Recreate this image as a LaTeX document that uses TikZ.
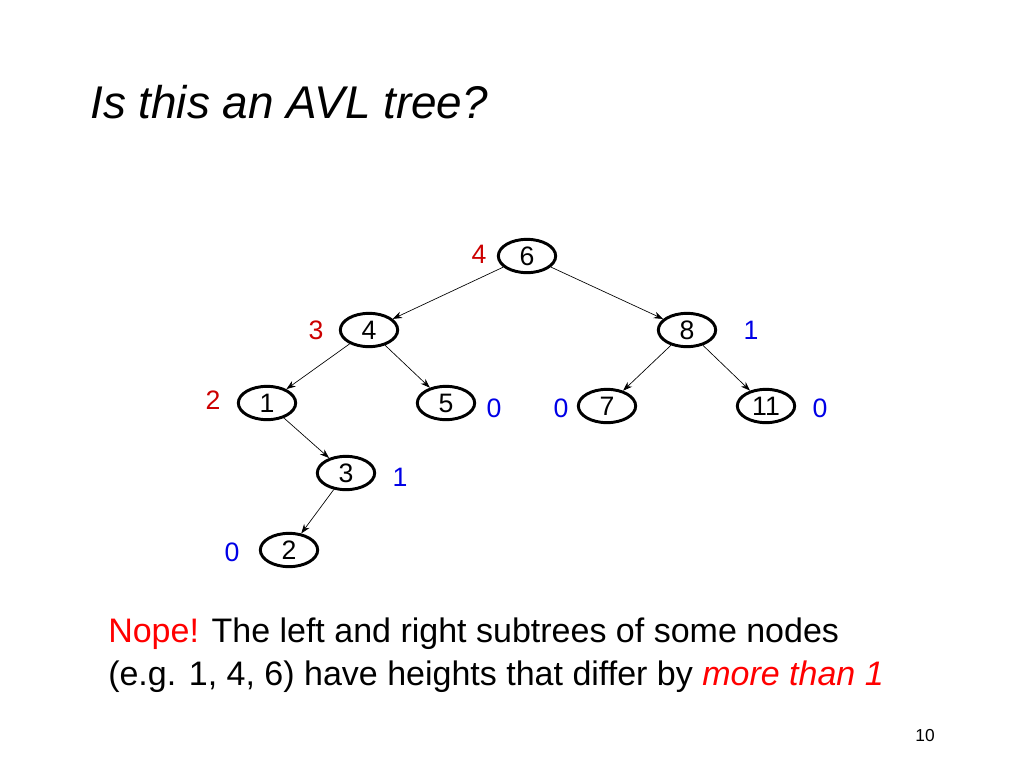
\documentclass[tikz,border=0pt]{standalone}
\usepackage{fontspec}
\setmainfont{Liberation Sans}
\usetikzlibrary{shapes.geometric,arrows.meta}
\definecolor{myred}{RGB}{204,0,0}
\definecolor{myblue}{RGB}{0,0,230}
\definecolor{nred}{RGB}{255,0,0}
\begin{document}
\begin{tikzpicture}[x=0.75pt,y=-0.75pt,
  tn/.style={ellipse,draw,line width=2.2pt,minimum width=43pt,minimum height=25pt,inner sep=0pt,font=\fontsize{20}{20}\selectfont},
  lab/.style={font=\fontsize{20}{20}\selectfont},
  ed/.style={-{Stealth[length=7pt,width=5pt]},line width=0.5pt}]
\useasboundingbox (0,0) rectangle (1024,768);
\node[anchor=west,font=\fontsize{34.4}{34.4}\selectfont\itshape,inner sep=0pt] (t) at (90,102) {Is this an AVL tree?};
\node[tn] (n6) at (527,256) {6};
\node[tn] (n4) at (369,330) {4};
\node[tn] (n8) at (687,330) {8};
\node[tn] (n1) at (267,403) {1};
\node[tn] (n5) at (446,403) {5};
\node[tn] (n7) at (607,406) {7};
\node[tn] (n11) at (766,406) {11};
\node[tn] (n3) at (346,473) {3};
\node[tn] (n2) at (289,550) {2};
\draw[ed] (n6) -- (n4);
\draw[ed] (n6) -- (n8);
\draw[ed] (n4) -- (n1);
\draw[ed] (n4) -- (n5);
\draw[ed] (n8) -- (n7);
\draw[ed] (n8) -- (n11);
\draw[ed] (n1) -- (n3);
\draw[ed] (n3) -- (n2);
\node[lab,text=myred] (h6) at (479,254) {4};
\node[lab,text=myred] (h4) at (316,330) {3};
\node[lab,text=myblue] (h8) at (751,330) {1};
\node[lab,text=myred] (h1) at (213,400) {2};
\node[lab,text=myblue] (h5) at (494,408) {0};
\node[lab,text=myblue] (h7) at (561,408) {0};
\node[lab,text=myblue] (h11) at (820,408) {0};
\node[lab,text=myblue] (h3) at (400,477) {1};
\node[lab,text=myblue] (h2) at (232,552) {0};
\node[anchor=north west,align=left,font=\fontsize{25.5}{32}\selectfont,inner sep=0pt] (txt) at (108,618)
 {\textcolor{nred}{Nope!} The left and right subtrees of some nodes\\(e.g. 1, 4, 6) have heights that differ by \textcolor{nred}{\itshape more than 1}};
\node[font=\fontsize{13}{13}\selectfont] (pg) at (925,736) {10};
\end{tikzpicture}
\end{document}
